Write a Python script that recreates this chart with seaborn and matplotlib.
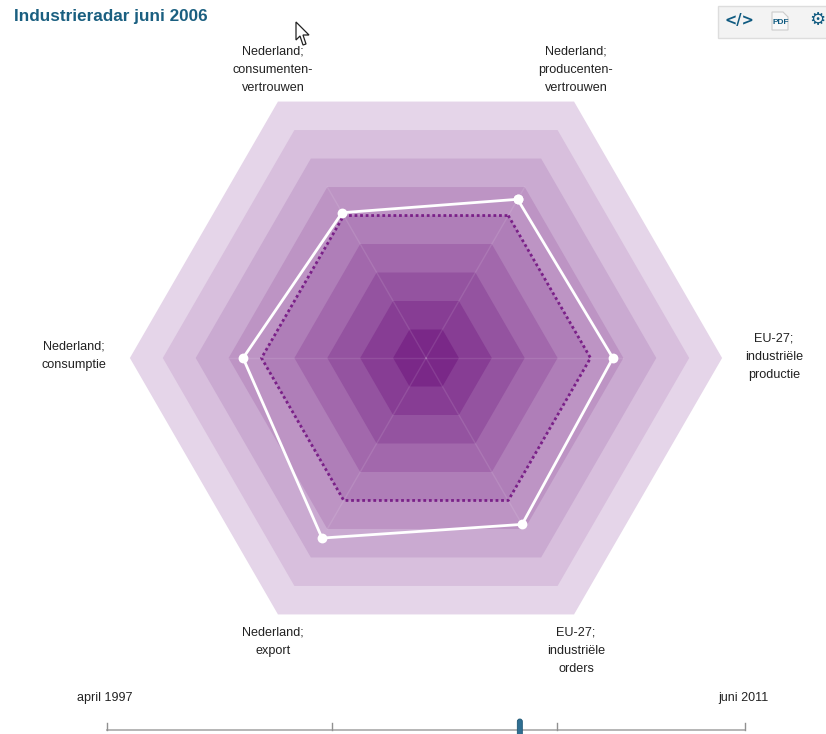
import matplotlib
matplotlib.use('Agg')
import numpy as np
import pandas as pd
import matplotlib.pyplot as plt
from matplotlib.patches import FancyBboxPatch, Polygon
import seaborn as sns

# -------------------------
# Data
# -------------------------
title = "Industrieradar juni 2006"
axis_labels = [
    "Nederland;\nproducenten-\nvertrouwen",
    "EU-27;\nindustriële\nproductie",
    "EU-27;\nindustriële\norders",
    "Nederland;\nexport",
    "Nederland;\nconsumptie",
    "Nederland;\nconsumenten-\nvertrouwen",
]
axis_angles = [60, 0, -60, -120, 180, 120]
current_values = [5.57, 5.68, 5.84, 6.32, 5.56, 5.10]
average_values = [5.0, 5.0, 5.0, 5.0, 5.0, 5.0]
ring_levels = [9, 8, 7, 6, 5, 4, 3, 2, 1]

slider_start = "april 1997"
slider_end = "juni 2011"
slider_ticks = [0, 60, 120, 170]
slider_pos = 110

# -------------------------
# Layout (pixels)
# -------------------------
cx, cy = 426, 358
unit = 32.9
sl_x0, sl_x1, sl_y = 107, 745, 730


def to_xy(values, angles):
    a = np.radians(angles)
    r = np.array(values) * unit
    return cx + r * np.cos(a), cy - r * np.sin(a)


def sl_x(m):
    return sl_x0 + (sl_x1 - sl_x0) * m / slider_ticks[-1]


plt.rcParams['font.family'] = ['Liberation Sans', 'DejaVu Sans']
fig = plt.figure(figsize=(8.26, 7.34), dpi=100)
ax = fig.add_axes([0, 0, 1, 1])
ax.set_xlim(0, 826)
ax.set_ylim(734, 0)
ax.axis("off")

# -------------------------
# Rings and spokes
# -------------------------
colors = sns.blend_palette(["#e5d5e9", "#7a2888"], len(ring_levels))
for level, col in zip(ring_levels, colors):
    x, y = to_xy([level] * 6, axis_angles)
    ax.fill(x, y, color=col, lw=0, zorder=1)

# spokes fade out towards the rim, so only the inner rings get one
for ang in axis_angles:
    x, y = to_xy([0, 6], [ang, ang])
    ax.plot(x, y, color="white", alpha=0.1, lw=1, zorder=2)

# -------------------------
# Series
# -------------------------
x, y = to_xy(current_values + current_values[:1], axis_angles + axis_angles[:1])
df = pd.DataFrame({"x": x, "y": y})
x2, y2 = to_xy(average_values + average_values[:1], axis_angles + axis_angles[:1])
df_avg = pd.DataFrame({"x": x2, "y": y2})

sns.lineplot(data=df_avg, x="x", y="y", sort=False, estimator=None, ax=ax,
             color="#7a2088", lw=2, linestyle=(0, (1, 1)), zorder=3)
sns.lineplot(data=df, x="x", y="y", sort=False, estimator=None, ax=ax,
             color="white", lw=2, zorder=4)
sns.scatterplot(data=df, x="x", y="y", ax=ax, color="white", s=50,
                linewidth=0, zorder=5, clip_on=False)
ax.set_xlim(0, 826)
ax.set_ylim(734, 0)
ax.axis("off")

# -------------------------
# Labels
# -------------------------
label_pos = [(576, 70), (774, 357), (576, 651), (273, 642), (74, 356), (273, 70)]
for lab, (lx, ly) in zip(axis_labels, label_pos):
    ax.text(lx, ly, lab, ha="center", va="center", fontsize=9.1, linespacing=1.7,
            color="#222222")

ax.text(14, 17, title, fontsize=12.3, fontweight="bold", color="#1a5f80",
        ha="left", va="center")

# -------------------------
# Slider
# -------------------------
ax.text(105, 698, slider_start, ha="center", va="center", fontsize=9, color="#222222")
ax.text(743, 698, slider_end, ha="center", va="center", fontsize=9, color="#222222")
ax.plot([sl_x0, sl_x1], [sl_y, sl_y], color="#b0b0b0", lw=1.3, zorder=2)
for m in slider_ticks:
    ax.plot([sl_x(m), sl_x(m)], [sl_y, sl_y - 7], color="#909090", lw=1, zorder=2)
ax.add_patch(FancyBboxPatch((sl_x(slider_pos) - 2.5, 719), 5, 22,
                            boxstyle="round,pad=0,rounding_size=2.5",
                            fc="#2f6f92", ec="#1d5674", lw=0.6, zorder=3))

# -------------------------
# Toolbar and cursor
# -------------------------
ax.add_patch(plt.Rectangle((718, 6), 120, 32, fc="#f3f3f3", ec="#dddddd", lw=1, zorder=2))
ax.text(739, 21, "</>", ha="center", va="center", fontsize=10.5, fontweight="bold",
        color="#0f5a80", family="DejaVu Sans", zorder=3)
ax.add_patch(Polygon([(772, 12), (783, 12), (788, 17), (788, 30), (772, 30)], closed=True,
                     fc="#f8f8f8", ec="#cccccc", lw=0.8, zorder=3))
ax.text(781, 22, "PDF", ha="center", va="center", fontsize=6, fontweight="bold",
        color="#0f5a80", zorder=4)
ax.text(817, 20, "\u2699", ha="center", va="center", fontsize=13,
        color="#0f5a80", family="DejaVu Sans", zorder=3)

cursor = [(296, 22), (296, 40), (300, 36), (303, 45), (306, 44), (303, 35), (309, 35)]
ax.add_patch(Polygon(cursor, closed=True, fc="white", ec="#222222", lw=0.9, zorder=6))

fig.savefig("out.png", dpi=100)
plt.close(fig)
